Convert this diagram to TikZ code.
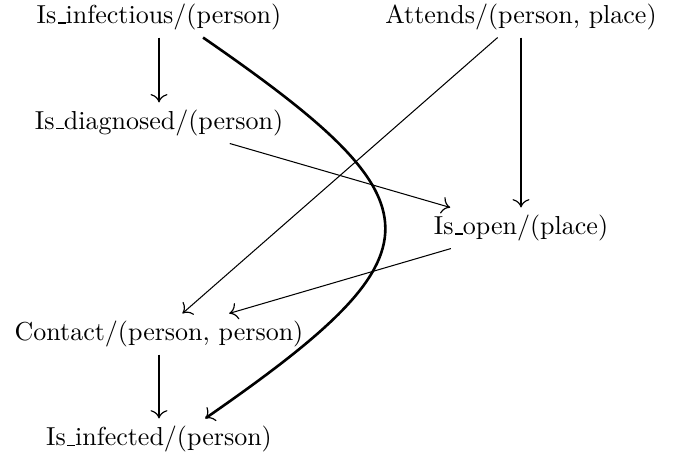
\documentclass[tikz,border=0pt]{standalone}
\usetikzlibrary{arrows.meta}
\newcommand\usc{\leavevmode\kern.06em\vbox{\hrule width.3em}}
\begin{document}
\begin{tikzpicture}[line join=round, >={To[length=3.2pt,width=6.5pt,line width=0.45pt]},
	obj/.style={inner xsep=2pt, inner ysep=2.7pt},
	edge/.style={->, line width=0.4pt},
	heavy/.style={->, line width=1.1pt}]
	\useasboundingbox (0,0) rectangle (9.231,-6.190);
	\node[obj] (infectious) at (2.149,-0.230) {Is\usc infectious/(person)};
	\node[obj] (attends) at (7.042,-0.230) {Attends/(person, place)};
	\node[obj] (diagnosed) at (2.149,-1.662) {Is\usc diagnosed/(person)};
	\node[obj] (open) at (7.042,-3.082) {Is\usc open/(place)};
	\node[obj] (contact) at (2.149,-4.514) {Contact/(person, person)};
	\node[obj] (infected) at (2.149,-5.934) {Is\usc infected/(person)};
	% vertical arrows
	\draw[heavy] (infectious) -- (diagnosed);
	\draw[heavy] (contact) -- (infected);
	\draw[->, line width=0.8pt] (attends) -- (open);
	% crossing arrows
	\draw[edge] (diagnosed) -- (open);
	\draw[edge] (attends) -- (contact);
	\draw[edge] (open) -- (contact);
	% long bend
	\draw[->, line width=1pt] (infectious.-25) .. controls +(3.271,-2.257) and +(3.257,2.257) .. (infected.24);
\end{tikzpicture}
\end{document}
